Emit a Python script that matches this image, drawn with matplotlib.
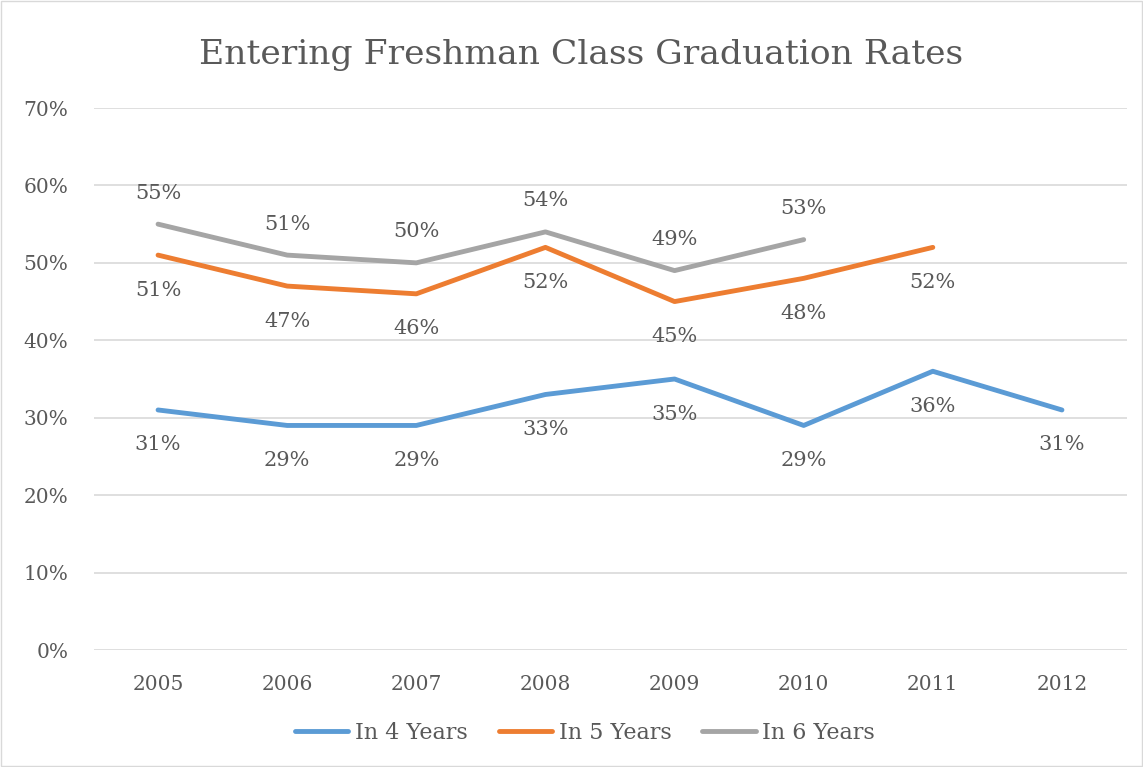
import matplotlib.pyplot as plt
from matplotlib.patches import Rectangle

plt.rcParams['font.family'] = ['DejaVu Serif']

years = ['2005', '2006', '2007', '2008', '2009', '2010', '2011', '2012']
in_4_years = [31, 29, 29, 33, 35, 29, 36, 31]
in_5_years = [51, 47, 46, 52, 45, 48, 52]
in_6_years = [55, 51, 50, 54, 49, 53]
y_ticks = [0, 10, 20, 30, 40, 50, 60, 70]

text_color = '#595959'
series = [
    ('In 4 Years', in_4_years, '#5B9BD5', -35),
    ('In 5 Years', in_5_years, '#ED7D31', -35),
    ('In 6 Years', in_6_years, '#A5A5A5', 31),
]

fig = plt.figure(figsize=(11.43, 7.67), dpi=100)
ax = fig.add_axes([93.5 / 1143, 1 - 650 / 767, 1033 / 1143, 542 / 767])

for name, vals, color, off in series:
    xs = list(range(len(vals)))
    ax.plot(xs, vals, color=color, lw=3.5, label=name, solid_capstyle='round')
    for x, v in zip(xs, vals):
        ax.annotate('{}%'.format(v), (x, v), xytext=(0, off), textcoords='offset pixels',
                    ha='center', va='center', fontsize=15, color=text_color)

ax.set_xlim(-0.5, len(years) - 0.5)
ax.set_ylim(0, 70)
ax.set_xticks(range(len(years)))
ax.set_xticklabels(years)
ax.set_yticks(y_ticks)
ax.set_yticklabels(['{}%'.format(t) for t in y_ticks])
ax.tick_params(length=0, labelsize=14.5, labelcolor=text_color)
ax.tick_params(axis='y', pad=18)
ax.tick_params(axis='x', pad=18)
ax.grid(axis='y', color='#D9D9D9', lw=1.2)
ax.set_axisbelow(True)
for s in ax.spines.values():
    s.set_visible(False)

fig.text(581 / 1143, 1 - 55 / 767, 'Entering Freshman Class Graduation Rates', ha='center', va='center',
         fontsize=24.8, color=text_color)

leg = fig.legend(loc='center', bbox_to_anchor=(585 / 1143, 1 - 733 / 767), ncol=3, frameon=False,
                 fontsize=16, handlelength=2.4, columnspacing=1.4, handletextpad=0.3)
for t in leg.get_texts():
    t.set_color(text_color)

fig.patches.append(Rectangle((1 / 1143, 1 / 767), 1 - 2 / 1143, 1 - 2 / 767, transform=fig.transFigure,
                             fill=False, edgecolor='#D9D9D9', lw=1))

fig.savefig('out.png', dpi=100)
